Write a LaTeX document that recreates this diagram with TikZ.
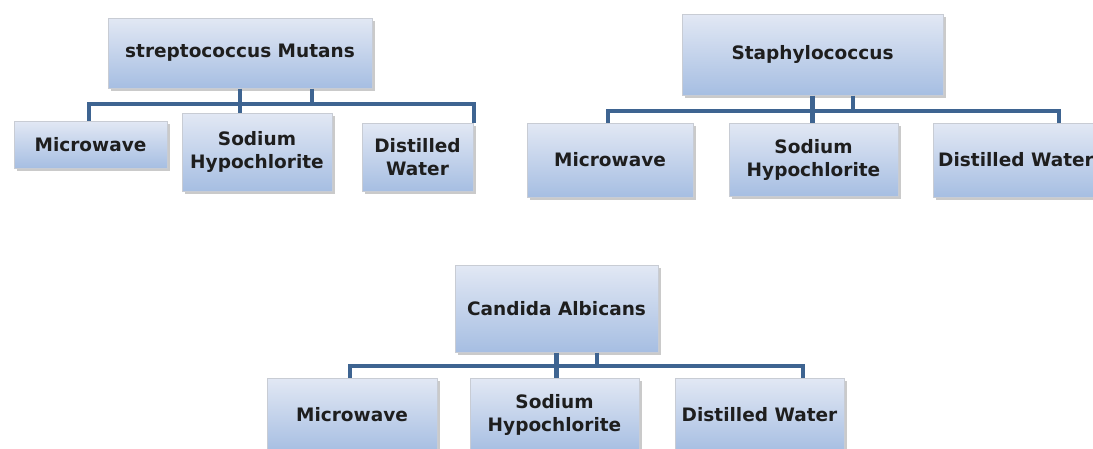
\documentclass[tikz,border=0pt]{standalone}
\usepackage{fontspec}
\setmainfont{DejaVu Sans}
\usetikzlibrary{shadows}
\definecolor{boxtop}{RGB}{226,232,244}
\definecolor{boxbot}{RGB}{166,190,226}
\definecolor{boxline}{RGB}{200,204,212}
\definecolor{connblue}{RGB}{62,100,145}
\definecolor{txt}{RGB}{30,30,30}
\begin{document}
\begin{tikzpicture}[x=1pt,y=-1pt]
        %======estilos==========%
        
            \tikzstyle{box}=[rectangle,draw=boxline,line width=1pt,shading=axis,top color=boxtop,bottom color=boxbot,
                drop shadow={shadow xshift=2.5pt,shadow yshift=-2.5pt,opacity=0.35,fill=black!60},
                text=txt,font=\bfseries\fontsize{18.5}{23}\selectfont,align=center,inner sep=2pt]
            \tikzstyle{conn}=[connblue,line width=4.5pt]
        
        %====================%%=============%  
        
            \useasboundingbox (0,0) rectangle (1093,448);
            \clip (0,0) rectangle (1093,448);
        
            % streptococcus mutans
            \node[box,minimum width=264pt,minimum height=70pt](sm) at (240,53) {streptococcus Mutans};
            \node[box,minimum width=153pt,minimum height=47pt](smMW) at (90.5,144.5) {Microwave};
            \node[box,minimum width=150pt,minimum height=78pt](smSH) at (257,152) {Sodium\\Hypochlorite};
            \node[box,minimum width=111pt,minimum height=68pt](smDW) at (417.5,157) {Distilled\\Water};
            \coordinate (smL) at (89,104);
            \coordinate (smR) at (474,104);
            \coordinate (smS) at (312,104);
        
            \draw[conn](smL |- smMW.north) -- (smL) -- (smR) -- (smR |- smDW.north);
            \draw[conn](sm.south) -- (sm.south |- smSH.north);
            \draw[conn](smS |- sm.south) -- (smS);
        
            % staphylococcus
            \node[box,minimum width=261pt,minimum height=81pt](st) at (812.5,54.5) {Staphylococcus};
            \node[box,minimum width=166pt,minimum height=74pt](stMW) at (610,160) {Microwave};
            \node[box,minimum width=169pt,minimum height=73pt](stSH) at (813.5,159.5) {Sodium\\Hypochlorite};
            \node[box,minimum width=166pt,minimum height=74pt](stDW) at (1016,160) {Distilled Water};
            \coordinate (stL) at (608,111);
            \coordinate (stR) at (1059,111);
            \coordinate (stS) at (853,111);
        
            \draw[conn](stL |- stMW.north) -- (stL) -- (stR) -- (stR |- stDW.north);
            \draw[conn](st.south) -- (st.south |- stSH.north);
            \draw[conn](stS |- st.south) -- (stS);
        
            % candida albicans
            \node[box,minimum width=203pt,minimum height=87pt](ca) at (556.5,308.5) {Candida Albicans};
            \node[box,minimum width=170pt,minimum height=74pt](caMW) at (352,415) {Microwave};
            \node[box,minimum width=169pt,minimum height=74pt](caSH) at (554.5,415) {Sodium\\Hypochlorite};
            \node[box,minimum width=169pt,minimum height=74pt](caDW) at (759.5,415) {Distilled Water};
            \coordinate (caL) at (350,366);
            \coordinate (caR) at (803,366);
            \coordinate (caS) at (597,366);
        
            \draw[conn](caL |- caMW.north) -- (caL) -- (caR) -- (caR |- caDW.north);
            \draw[conn](ca.south) -- (ca.south |- caSH.north);
            \draw[conn](caS |- ca.south) -- (caS);
        \end{tikzpicture}
\end{document}
